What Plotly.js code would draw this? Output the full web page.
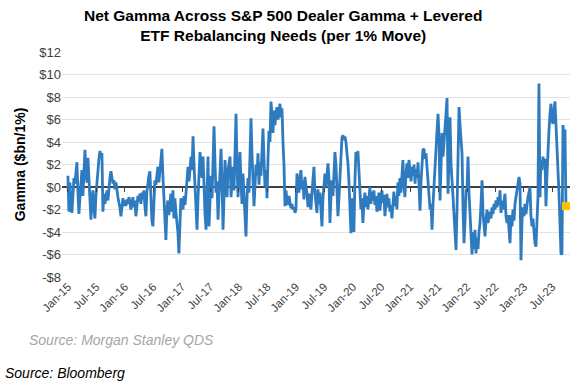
<!DOCTYPE html>
<html>
<head>
<meta charset="utf-8">
<script src="https://cdn.plot.ly/plotly-3.0.1.min.js"></script>
<style>
html,body{margin:0;padding:0;background:#fff;}
#chart{width:578px;height:383px;}
</style>
</head>
<body>
<div id="chart"></div>
<script>
// Net gamma ($bn per 1% move), roughly weekly readings per calendar year
const v2015 = [1.0,-2.2,0.4,-1.8,-2.3,-0.2,0.8,0.3,1.6,2.2,-0.5,-2.4,-1.0,0.6,1.5,-0.8,2.0,3.3,1.2,0.4,2.6,1.0,-1.5,-2.9,-1.2,-0.3,-2.0,-2.8,-0.8,0.6,1.8,2.5,3.2,2.7,3.0,-2.2,-0.6,-1.5,-1.0,-0.3,-1.2,0.2,0.8,1.4,1.0,0.3,0.6,-0.2,0.4,-0.6,-0.9,-1.4,-1.8,-2.6,-1.6,-1.0,-1.7];
const v2016 = [-1.2,-1.7,-1.1,-1.5,-0.9,-1.3,-2.0,-1.4,-0.9,-1.8,-1.2,-2.6,-1.6,-0.8,-1.3,-0.6,-1.5,-0.5,-1.1,-0.3,-1.7,-2.6,-0.4,0.6,1.0,1.4,-1.5,-3.0,-3.5,-1.0,0.6,0.2,1.0,1.8,0.4,1.5,2.6,3.4,1.0,-1.5,-3.0,-4.7,-2.0,-1.2,-2.5,-1.5,-0.6,-2.2,-0.3,-2.8,-1.0,-2.2,-3.0,-4.0,-5.9,-3.0,-1.0];
const v2017 = [-1.5,-2.0,-0.8,-1.6,-0.5,0.6,1.8,0.5,1.4,2.7,1.5,4.5,2.0,-0.5,-2.0,-3.8,-1.0,1.2,3.1,2.0,0.8,2.7,-0.8,-2.4,-3.8,-0.5,2.7,-3.5,-0.8,1.0,-1.0,2.8,5.4,2.0,-0.5,0.5,-2.9,-0.8,1.5,3.4,0.5,-3.8,-1.0,2.4,0.8,-0.9,1.5,2.0,2.7,-0.9,0.5,1.8,-0.3,3.0,6.5,2.0,-0.9];
const v2018 = [1.0,3.1,0.5,-1.5,1.2,-1.0,-2.5,-4.4,-1.0,0.8,-0.5,2.5,6.1,3.0,0.5,-1.7,0.0,2.0,1.0,3.0,0.2,2.2,1.0,3.5,5.2,2.5,0.0,1.5,-1.0,2.5,5.0,4.0,7.6,6.5,4.8,6.8,5.5,6.5,7.1,6.0,6.8,7.4,6.2,7.0,4.0,2.0,-1.7,-0.3,-1.2,-1.6,-0.8,-1.3,-1.9,-1.5,-2.0,-1.8,-2.3];
const v2019 = [-2.0,1.2,0.3,-0.5,0.8,1.5,-0.2,0.6,-1.1,0.9,0.0,-0.5,-1.8,-0.6,-1.4,-2.0,-0.5,0.8,1.8,-0.5,-1.5,-2.3,-0.2,-1.5,-0.5,-2.0,-3.5,-1.0,0.5,1.2,0.0,1.5,2.1,0.8,-3.2,-1.0,0.6,-0.8,1.5,3.1,2.0,-0.5,-2.6,-1.0,0.5,2.5,4.4,4.6,4.2,4.5,4.0,3.0,2.1,0.5,-2.0,-4.1,-1.0];
const v2020 = [-3.0,-4.0,0.5,3.1,2.5,3.2,1.5,-0.9,-2.0,-1.0,-3.2,-1.5,-0.5,-1.8,-0.8,-2.0,-1.2,0.0,-1.5,-0.4,-1.2,-0.3,-1.6,-0.8,-2.2,-1.0,-0.5,-2.1,-1.2,-0.3,-1.4,-0.7,-2.6,-1.5,-0.6,-1.8,-1.0,-2.2,-1.6,-2.8,-1.2,-0.4,-1.7,-0.8,-2.0,0.4,-0.8,0.8,-0.5,1.5,2.4,0.2,-0.9,1.0,2.1,0.8,2.4];
const v2021 = [1.5,0.5,1.8,1.0,2.0,0.3,1.6,0.8,2.2,0.0,-2.1,0.5,2.0,3.4,3.3,2.5,3.0,1.5,0.6,-0.5,-2.0,-1.5,-3.8,-1.5,0.5,1.2,3.0,5.0,6.5,4.5,-1.2,2.5,4.8,2.7,4.0,5.7,6.5,7.9,-0.6,3.0,6.2,2.0,-0.3,-0.9,-2.5,-4.0,-5.6,-2.0,3.0,7.1,5.5,4.0,3.0,-2.0,-5.0,-3.0,-0.3];
const v2022 = [-0.3,2.7,-0.5,-2.6,-4.5,-6.0,-4.0,-5.5,-3.8,-5.9,-4.5,-5.5,-4.0,-3.2,-1.5,0.6,-2.3,-3.5,-4.4,-3.0,-2.0,-3.2,-2.6,-2.2,-2.8,-1.8,-2.4,-1.5,-2.0,-1.2,-1.8,-0.9,-1.6,-0.3,-2.3,-1.2,-2.0,-1.0,-0.6,-2.6,-3.2,-2.5,-4.0,-5.0,-2.5,-3.5,-2.0,-3.0,-1.5,-0.9,-0.2,0.5,0.9,0.3,-6.5,-3.0,-1.8];
const v2023 = [-2.6,-1.5,-2.4,-1.3,-0.9,-0.5,0.0,-2.6,-3.5,-2.8,-4.2,-5.0,-5.3,-3.0,-0.9,9.2,-0.9,2.4,1.5,2.7,2.0,2.5,-1.7,1.0,3.6,5.0,6.5,7.4,6.0,5.6,6.8,7.6,5.6,4.0,1.5,-0.5,-3.8,-5.9,-6.0,5.5,4.5,5.1,-1.7];

const years = [2015,2016,2017,2018,2019,2020,2021,2022,2023];
const yearValues = [v2015,v2016,v2017,v2018,v2019,v2020,v2021,v2022,v2023];
const samplesPerYear = 57;

const tickDates = ['2015-01-01','2015-07-01','2016-01-01','2016-07-01','2017-01-01','2017-07-01','2018-01-01','2018-07-01','2019-01-01','2019-07-01','2020-01-01','2020-07-01','2021-01-01','2021-07-01','2022-01-01','2022-07-01','2023-01-01','2023-07-01'];
const tickLabels = ['Jan-15','Jul-15','Jan-16','Jul-16','Jan-17','Jul-17','Jan-18','Jul-18','Jan-19','Jul-19','Jan-20','Jul-20','Jan-21','Jul-21','Jan-22','Jul-22','Jan-23','Jul-23'];
const yTickVals = [-8,-6,-4,-2,0,2,4,6,8,10,12];
const yTickText = ['-$8','-$6','-$4','-$2','$0','$2','$4','$6','$8','$10','$12'];

function fmt(ms){
  return new Date(ms).toISOString().replace('T',' ').replace('Z','');
}
const xs = [], ys = [];
years.forEach((yr, k) => {
  const start = Date.UTC(yr,0,1);
  const step = 365.25/samplesPerYear*86400000;
  yearValues[k].forEach((v,i) => { xs.push(fmt(start + i*step)); ys.push(v); });
});

const xRange = ['2014-11-24','2023-10-23'];

const traces = [
  {x: xs, y: ys, type:'scatter', mode:'lines', line:{color:'#2f7bbf', width:2.8}, hoverinfo:'skip', showlegend:false},
  {x: [xs[xs.length-1]], y: [ys[ys.length-1]], xaxis:'x2', type:'scatter', mode:'markers',
   marker:{symbol:'square', size:8, color:'#ffc000'}, showlegend:false}
];

const layout = {
  width:578, height:383,
  margin:{l:62, r:8, t:52, b:106},
  paper_bgcolor:'#ffffff', plot_bgcolor:'#ffffff',
  font:{family:'Liberation Sans, Arial, sans-serif', color:'#404040'},
  title:{text:'Net Gamma Across S&P 500 Dealer Gamma + Levered<br>ETF Rebalancing Needs (per 1% Move)',
    font:{family:'Liberation Sans, Arial, sans-serif', size:15.5, color:'#000000', weight:'bold'},
    xref:'container', x:0.49, xanchor:'center', yref:'container', y:0.946, yanchor:'top'},
  xaxis:{type:'date', range:xRange, tickvals:tickDates, ticktext:tickLabels, tickangle:-45,
    tickfont:{size:11.5, color:'#404040'}, showgrid:false, zeroline:false, showline:false, ticks:''},
  xaxis2:{type:'date', range:xRange, overlaying:'x', anchor:'free', position:0.4, side:'bottom',
    tickvals:tickDates, showticklabels:false, ticks:'outside', ticklen:4, tickwidth:1, tickcolor:'#404040',
    showgrid:false, zeroline:false, showline:false},
  yaxis:{range:[-8,12], tickvals:yTickVals, ticktext:yTickText, tickfont:{size:13, color:'#404040'},
    showgrid:true, gridcolor:'#e3e3e3', gridwidth:1, zeroline:true, zerolinecolor:'#404040', zerolinewidth:1.5,
    ticks:'', showline:false,
    title:{text:'Gamma ($bn/1%)', font:{size:14, color:'#000000', weight:'bold'}, standoff:10}},
  annotations:[
    {text:'Source: Morgan Stanley QDS', xref:'paper', yref:'paper', x:-0.069, y:-0.28, xanchor:'left', yanchor:'middle',
     showarrow:false, font:{size:14, color:'#a6a6a6', style:'italic'}},
    {text:'Source: Bloomberg', xref:'paper', yref:'paper', x:-0.116, y:-0.427, xanchor:'left', yanchor:'middle',
     showarrow:false, font:{size:14, color:'#000000', style:'italic'}}
  ]
};

Plotly.newPlot('chart', traces, layout, {displayModeBar:false, staticPlot:true});
</script>
</body>
</html>
